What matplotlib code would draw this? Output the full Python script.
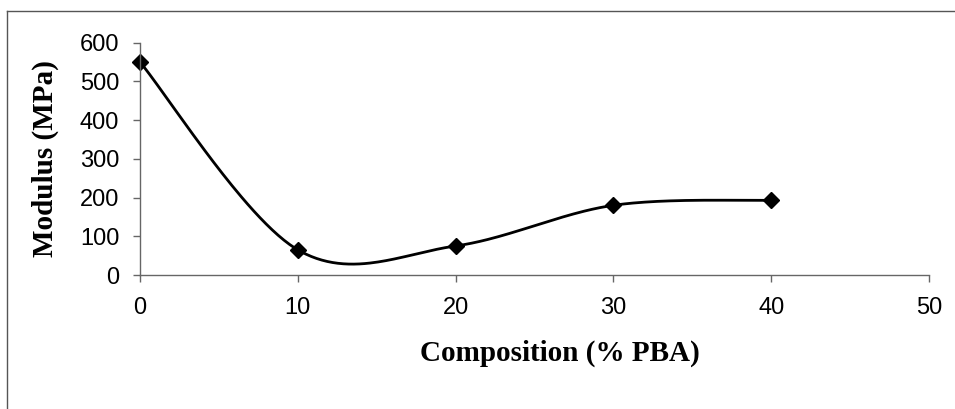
import numpy as np
import matplotlib
matplotlib.use("Agg")
import matplotlib.pyplot as plt
from matplotlib.lines import Line2D

# composition vs modulus
composition = [0, 10, 20, 30, 40]
modulus = [550, 65, 75, 180, 193]

x_ticks = [0, 10, 20, 30, 40, 50]
y_ticks = [0, 100, 200, 300, 400, 500, 600]


def smooth_curve(xs, ys, n=60):
    # Excel-style smoothed line: cubic Bezier with control points from neighbours
    pts = np.column_stack([xs, ys]).astype(float)
    ext = np.vstack([pts[0], pts, pts[-1]])
    out = []
    t = np.linspace(0, 1, n)[:, None]
    for i in range(len(pts) - 1):
        p0, p1, p2, p3 = ext[i], ext[i + 1], ext[i + 2], ext[i + 3]
        c1 = p1 + (p2 - p0) / 6
        c2 = p2 - (p3 - p1) / 6
        seg = ((1 - t) ** 3) * p1 + 3 * ((1 - t) ** 2) * t * c1 \
            + 3 * (1 - t) * t ** 2 * c2 + t ** 3 * p2
        out.append(seg)
    out = np.vstack(out)
    return out[:, 0], out[:, 1]


W, H = 955, 409
fig = plt.figure(figsize=(W / 100, H / 100), dpi=100)

# chart-area border (only left and top edges show in the crop)
fig.add_artist(Line2D([7 / W, 7 / W], [0, 1 - 11 / H], color="#555555", lw=1.0))
fig.add_artist(Line2D([7 / W, 1], [1 - 11 / H, 1 - 11 / H], color="#555555", lw=1.0))

left, right = 140 / W, 929 / W
bottom, top = 1 - 275 / H, 1 - 42.7 / H
ax = fig.add_axes([left, bottom, right - left, top - bottom])

sx, sy = smooth_curve(composition, modulus)
ax.plot(sx, sy, color="black", lw=2, clip_on=False)
ax.plot(composition, modulus, linestyle="none", marker="D", markersize=8,
        color="black", clip_on=False)

ax.set_xlim(0, 50)
ax.set_ylim(0, 600)
ax.set_xticks(x_ticks)
ax.set_yticks(y_ticks)

for s in ["top", "right"]:
    ax.spines[s].set_visible(False)
for s in ["left", "bottom"]:
    ax.spines[s].set_color("#666666")
    ax.spines[s].set_linewidth(1.0)

ax.tick_params(direction="out", length=5, width=1, color="#666666",
               labelsize=17)
ax.tick_params(axis="y", pad=10)
ax.tick_params(axis="x", pad=11)
for lab in ax.get_xticklabels() + ax.get_yticklabels():
    lab.set_fontfamily("Liberation Sans")

fig.text(560 / W, 1 - 353 / H, "Composition (% PBA)", ha="center", va="center",
         fontsize=21, fontweight="bold", family="Liberation Serif")
fig.text(45 / W, 1 - 159 / H, "Modulus (MPa)", ha="center", va="center",
         rotation=90, fontsize=21, fontweight="bold", family="Liberation Serif")

fig.savefig("out.png", dpi=100)
